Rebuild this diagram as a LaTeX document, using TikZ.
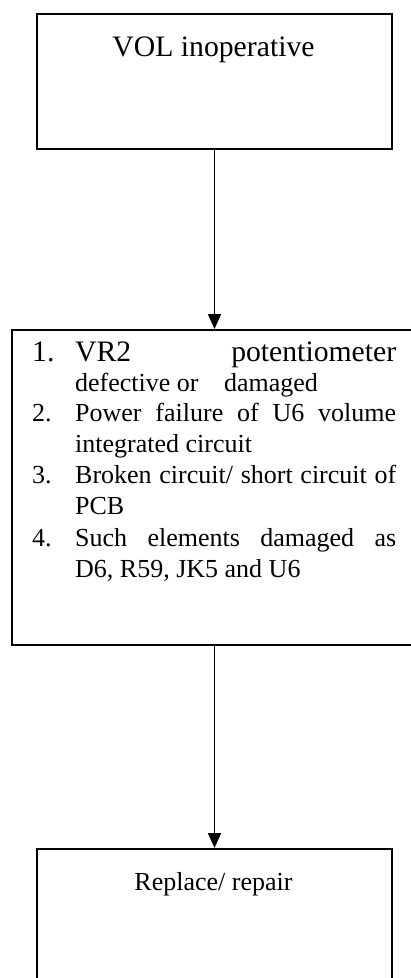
\documentclass[tikz,border=0pt]{standalone}
\usepackage{fontspec}
\setmainfont{Liberation Serif}
\usetikzlibrary{arrows.meta}
\begin{document}
\begin{tikzpicture}[x=1pt,y=-1pt,
  boxline/.style={draw, line width=2pt, inner sep=0pt, anchor=north west},
  flow/.style={draw, line width=1.8pt, -{Triangle[width=13pt,length=15pt]}},
  big/.style={font=\fontsize{29.7}{34}\selectfont},
  small/.style={font=\fontsize{26}{31}\selectfont},
  ln/.style={anchor=base west, inner sep=0pt},
  ctr/.style={anchor=base, inner sep=0pt}]
\useasboundingbox (0,0) rectangle (411,978);
\clip (0,0) rectangle (411,978);
% boxes
\node[boxline, minimum width=355pt, minimum height=135pt] (b1) at (36,13) {};
\node[boxline, minimum width=420pt, minimum height=315pt] (b2) at (11,329) {};
\node[boxline, minimum width=355pt, minimum height=200pt] (b3) at (36,848) {};
% connectors
\draw[flow] (b1.south) -- (b1.south |- b2.north);
\draw[flow] (b1.south |- b2.south) -- (b3.north);
% texts
\node[big, ctr] (t1) at (213.5,56) {VOL inoperative};
\node[big, ln] (n1) at (32,361) {1.};
\node[big, ln] (i1a) at (75,361) {\makebox[321pt][s]{VR2 potentiometer}};
\node[small, ln] (i1b) at (75,391) {defective or\hspace{19pt} damaged};
\node[small, ln] (n2) at (32,421) {2.};
\node[small, ln] (i2a) at (75,421) {\makebox[321pt][s]{Power failure of U6 volume}};
\node[small, ln] (i2b) at (75,452) {integrated circuit};
\node[small, ln] (n3) at (32,483) {3.};
\node[small, ln] (i3a) at (75,483) {\makebox[321pt][s]{Broken circuit/ short circuit of}};
\node[small, ln] (i3b) at (75,514) {PCB};
\node[small, ln] (n4) at (32,546) {4.};
\node[small, ln] (i4a) at (75,546) {\makebox[321pt][s]{Such elements damaged as}};
\node[small, ln] (i4b) at (75,577) {D6, R59, JK5 and U6};
\node[small, ctr] (t3) at (213.5,890) {Replace/ repair};
\end{tikzpicture}
\end{document}
